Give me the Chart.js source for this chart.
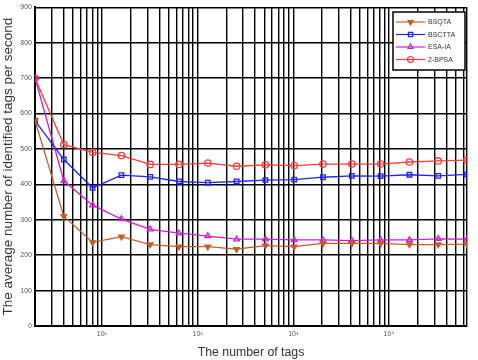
<!DOCTYPE html>
<html>
<head>
<meta charset="utf-8">
<script src="https://cdn.jsdelivr.net/npm/chart.js@4.4.0/dist/chart.umd.min.js"></script>
<style>
  html, body { margin: 0; padding: 0; background: #fff; }
  #wrap { width: 478px; height: 360px; }
</style>
</head>
<body>
<div id="wrap"><canvas id="chart" width="478" height="360"></canvas></div>
<script>
const tags = [2, 4, 8, 16, 32, 64, 128, 256, 512, 1024, 2048, 4096, 8192, 16384, 32768, 65536];
const bsqta = [580, 310, 236, 252, 230, 224, 224, 217, 227, 224, 233, 233, 233, 230, 230, 231];
const bsctta = [580, 470, 390, 426, 421, 408, 405, 408, 412, 413, 420, 424, 423, 427, 424, 428];
const esaia = [700, 410, 341, 302, 273, 262, 254, 245, 245, 243, 243, 241, 243, 243, 246, 245];
const bpsa = [700, 512, 490, 481, 456, 456, 460, 451, 455, 453, 457, 457, 457, 463, 466, 468];
const seriesNames = ["BSQTA", "BSCTTA", "ESA-IA", "2-BPSA"];
const yTicks = [0, 100, 200, 300, 400, 500, 600, 700, 800, 900];

const colors = ["#bf5f2c", "#2222ee", "#cc22cc", "#ff3b3b"];
const styles = ["triangle", "rect", "triangle", "circle"];
const rotations = [180, 0, 0, 0];
const allSeries = [bsqta, bsctta, esaia, bpsa];

// minor log grid: 2..9 per decade
const xGrid = [];
for (let d = 1; d <= 10000; d *= 10) {
  for (let m = (d === 1 ? 2 : 1); m <= 9; m++) {
    if (d * m <= 65536) xGrid.push(d * m);
  }
}
xGrid.push(65536);

const sup = { 1: "\u00B9", 2: "\u00B2", 3: "\u00B3", 4: "\u2074" };
const fontFam = "Arial, 'Liberation Sans', sans-serif";

const legendBox = {
  id: "legendBox",
  afterDatasetsDraw(chart) {
    const ctx = chart.ctx;
    const x0 = 393, y0 = 12, w = 72, h = 58;
    ctx.save();
    ctx.fillStyle = "#fff";
    ctx.fillRect(x0, y0, w, h);
    ctx.strokeStyle = "#000";
    ctx.lineWidth = 1.5;
    ctx.strokeRect(x0, y0, w, h);
    ctx.textBaseline = "middle";
    for (let i = 0; i < seriesNames.length; i++) {
      const y = y0 + 10 + i * 12.5;
      ctx.strokeStyle = colors[i];
      ctx.lineWidth = 1.2;
      ctx.beginPath();
      ctx.moveTo(x0 + 3, y);
      ctx.lineTo(x0 + 32, y);
      ctx.stroke();
      ctx.fillStyle = i === 0 ? colors[i] : "rgba(255,255,255,0)";
      Chart.helpers.drawPoint(ctx, {
        pointStyle: styles[i], rotation: rotations[i], radius: 3, borderWidth: 1.2
      }, x0 + 17.5, y);
      ctx.fillStyle = "#333";
      ctx.font = "7px " + fontFam;
      ctx.fillText(seriesNames[i], x0 + 35, y + 0.5);
    }
    ctx.restore();
  }
};

new Chart(document.getElementById("chart"), {
  type: "line",
  data: {
    labels: tags,
    datasets: allSeries.map((vals, i) => ({
      label: seriesNames[i],
      data: tags.map((t, k) => ({ x: t, y: vals[k] })),
      borderColor: colors[i],
      backgroundColor: "rgba(255,255,255,0)",
      borderWidth: 1.3,
      pointStyle: styles[i],
      pointRotation: rotations[i],
      pointRadius: 3.2,
      pointBorderWidth: 1.3,
      pointBorderColor: colors[i],
      pointBackgroundColor: i === 0 ? colors[i] : "rgba(255,255,255,0)",
      tension: 0
    }))
  },
  options: {
    responsive: false,
    animation: false,
    layout: { padding: { top: 7, right: 11, left: 0, bottom: 0 } },
    plugins: { legend: { display: false }, tooltip: { enabled: false } },
    scales: {
      x: {
        type: "logarithmic",
        min: 2,
        max: 65536,
        afterBuildTicks(scale) {
          scale.ticks = xGrid.map(v => ({ value: v }));
        },
        afterFit(scale) { scale.height = 34; },
        grid: { color: "#000", lineWidth: 1.4, drawTicks: false },
        border: { color: "#000", width: 2 },
        ticks: {
          autoSkip: false,
          maxRotation: 0,
          padding: 4,
          color: "#555",
          font: { size: 7, family: fontFam },
          callback(value) {
            const e = Math.log10(value);
            if (Math.abs(e - Math.round(e)) < 1e-9 && e >= 1) return "10" + sup[Math.round(e)];
            return "";
          }
        },
        title: {
          display: true,
          text: "The number of tags",
          color: "#333",
          padding: { top: 0, bottom: 0 },
          font: { size: 12.3, family: fontFam }
        }
      },
      y: {
        min: 0,
        max: 900,
        afterBuildTicks(scale) {
          scale.ticks = yTicks.map(v => ({ value: v }));
        },
        afterFit(scale) { scale.width = 35; },
        grid: { color: "#000", lineWidth: 1.4, drawTicks: false },
        border: { color: "#000", width: 2 },
        ticks: {
          padding: 3,
          color: "#555",
          font: { size: 7, family: fontFam }
        },
        title: {
          display: true,
          text: "The average number of identified tags per second",
          color: "#333",
          padding: { top: 0, bottom: 1 },
          font: { size: 13.5, family: fontFam }
        }
      }
    }
  },
  plugins: [legendBox]
});
</script>
</body>
</html>
